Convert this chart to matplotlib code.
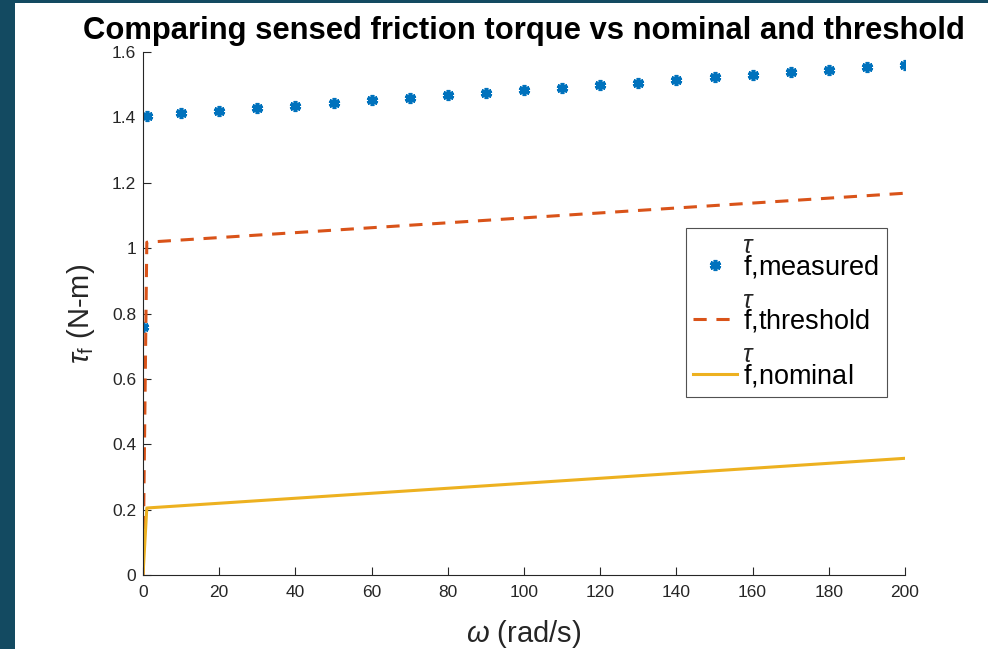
"""Sensed friction torque vs nominal and threshold curves (MATLAB-style figure)."""
import matplotlib
matplotlib.use('Agg')
import matplotlib.pyplot as plt
from matplotlib.patches import Rectangle

plt.rcParams['font.family'] = ['Liberation Sans', 'DejaVu Sans']
plt.rcParams['mathtext.fontset'] = 'custom'
plt.rcParams['mathtext.rm'] = 'Liberation Sans'
plt.rcParams['mathtext.it'] = 'Liberation Sans:italic'
plt.rcParams['lines.scale_dashes'] = False

# measured friction torque (samples every 10 rad/s, plus the start-up points)
omega_meas = [0, 1, 10, 20, 30, 40, 50, 60, 70, 80, 90, 100,
              110, 120, 130, 140, 150, 160, 170, 180, 190, 200]
tau_meas = [0.76, 1.405, 1.413, 1.421, 1.428, 1.436, 1.444, 1.452, 1.460,
            1.467, 1.475, 1.483, 1.491, 1.499, 1.506, 1.514, 1.522, 1.530,
            1.538, 1.545, 1.553, 1.561]

# threshold and nominal curves
omega_line = [0, 1, 200]
tau_threshold = [0.0, 1.018, 1.168]
tau_nominal = [0.0, 0.205, 0.357]

# legend subscripts; the tau is drawn over each one, MATLAB-tex style
LABELS = [r'$\mathrm{f{,}measured}$', r'$\mathrm{f{,}threshold}$',
          r'$\mathrm{f{,}nominal}$']

BLUE = '#0072BD'
ORANGE = '#D95319'
YELLOW = '#EDB120'
TEXT = '#262626'

fig = plt.figure(figsize=(9.88, 6.49), dpi=100)
fig.patch.set_facecolor('#134a61')
# white figure canvas inside the dark border
fig.patches.append(Rectangle((15 / 988, 0), 1 - 15 / 988, 1 - 3 / 649,
    transform=fig.transFigure, facecolor='white', edgecolor='none', zorder=-1))

ax = fig.add_axes([143 / 988, 1 - 575 / 649, 762 / 988, 523 / 649])
ax.plot(omega_meas, tau_meas, ls='none', marker=(6, 2, 0), ms=8, mew=2.6,
    color=BLUE, label=LABELS[0])
ax.plot(omega_line, tau_threshold, color=ORANGE, lw=2.2, dashes=(9.5, 7),
    label=LABELS[1])
ax.plot(omega_line, tau_nominal, color=YELLOW, lw=2.2, label=LABELS[2])

ax.set_xlim(0, 200)
ax.set_ylim(0, 1.6)
ax.set_xticks(range(0, 201, 20))
ax.set_yticks([0, 0.2, 0.4, 0.6, 0.8, 1.0, 1.2, 1.4, 1.6])
ax.set_yticklabels(['0', '0.2', '0.4', '0.6', '0.8', '1', '1.2', '1.4', '1.6'])
ax.tick_params(direction='in', length=6, width=0.8, colors=TEXT,
    labelsize=12.5)
ax.tick_params(axis='x', pad=7)
ax.tick_params(axis='y', pad=5)
ax.spines['top'].set_visible(False)
ax.spines['right'].set_visible(False)
for s in ('left', 'bottom'):
    ax.spines[s].set_color(TEXT)
    ax.spines[s].set_linewidth(0.8)

ax.set_xlabel(r'$\mathit{\omega}$ (rad/s)', fontsize=21, color=TEXT,
    labelpad=13)
ax.set_ylabel(r'$\mathit{\tau}_{\rm f}$ (N-m)', fontsize=21, color=TEXT,
    labelpad=11)
ax.set_title('Comparing sensed friction torque vs nominal and threshold',
    fontsize=22.3, fontweight='bold', pad=9)

# blank title row leaves room for the raised tau symbols
leg = ax.legend(loc='upper left', bbox_to_anchor=(0.7126, 0.6635),
    fontsize=19.5, title=' ', title_fontsize=12, frameon=True,
    fancybox=False, borderpad=0.27, labelspacing=1.02, handlelength=1.63,
    handletextpad=0.22, borderaxespad=0)
leg._legend_box.sep = 2
leg.get_frame().set_edgecolor(TEXT)
leg.get_frame().set_linewidth(0.8)

fig.canvas.draw()
renderer = fig.canvas.get_renderer()
W, H = fig.bbox.width, fig.bbox.height
for t in leg.get_texts():
    bb = t.get_window_extent(renderer)
    fig.text((bb.x0 - 1) / W, (bb.y1 - 5) / H, r'$\mathit{\tau}$',
        fontsize=18, color=TEXT, ha='left', va='bottom')

fig.savefig('out.png', dpi=100)
